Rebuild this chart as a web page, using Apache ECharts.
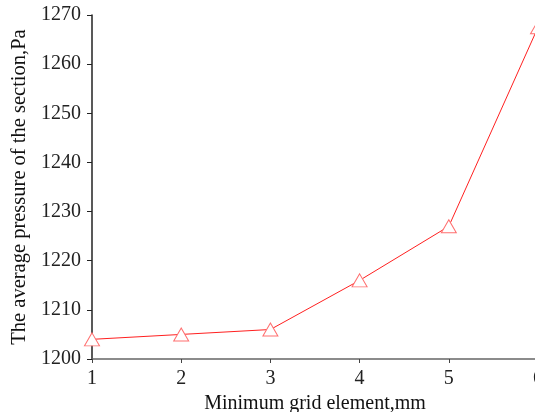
<!DOCTYPE html>
<html>
<head>
<meta charset="utf-8">
<script src="https://cdn.jsdelivr.net/npm/echarts@6/dist/echarts.min.js"></script>
<style>
  html, body { margin: 0; padding: 0; background: #fff; }
  #chart-container { width: 535px; height: 412px; }
</style>
</head>
<body>
<div id="chart-container"></div>
<script>
// grid sizes (mm) and the average section pressure (Pa)
const gridSizes = ["1", "2", "3", "4", "5", "6"];
const avgPressure = [1204, 1205, 1206, 1216, 1227, 1267.5];
const yTicks = { min: 1200, max: 1270, step: 10 };

const font = "Liberation Serif";
const chart = echarts.init(document.getElementById("chart-container"));

const option = {
  backgroundColor: "#fff",
  animation: false,
  grid: {
    left: 92,
    right: -3,
    top: 15,
    bottom: 53,
    containLabel: false,
    outerBoundsMode: "none",
  },
  xAxis: {
    type: "category",
    data: gridSizes,
    boundaryGap: false,
    name: "Minimum grid element,mm",
    nameLocation: "middle",
    nameGap: 29,
    nameTextStyle: { fontFamily: font, fontSize: 20, color: "#111" },
    axisLine: { lineStyle: { color: "#666", width: 1.5 } },
    axisTick: { alignWithLabel: true, length: 4, lineStyle: { color: "#444" } },
    axisLabel: { fontFamily: font, fontSize: 20, color: "#222", margin: 10 },
    splitLine: { show: false },
  },
  yAxis: {
    type: "value",
    min: yTicks.min,
    max: yTicks.max,
    interval: yTicks.step,
    name: "The average pressure of the section,Pa",
    nameLocation: "middle",
    nameGap: 60,
    nameTextStyle: { fontFamily: font, fontSize: 20.5, color: "#111" },
    axisLine: { show: true, lineStyle: { color: "#222", width: 1.5 } },
    axisTick: { show: true, length: 5, lineStyle: { color: "#222" } },
    axisLabel: {
      fontFamily: font,
      fontSize: 20,
      color: "#222",
      margin: 11,
      formatter: (v) => String(v),
    },
    splitLine: { show: false },
  },
  series: [
    {
      type: "line",
      data: avgPressure,
      symbol: "triangle",
      symbolSize: [15, 13],
      showAllSymbol: true,
      lineStyle: { color: "#ff2020", width: 1 },
      itemStyle: { color: "#fff", borderColor: "#ff7070", borderWidth: 1 },
      clip: false,
    },
  ],
};

chart.setOption(option);
</script>
</body>
</html>
